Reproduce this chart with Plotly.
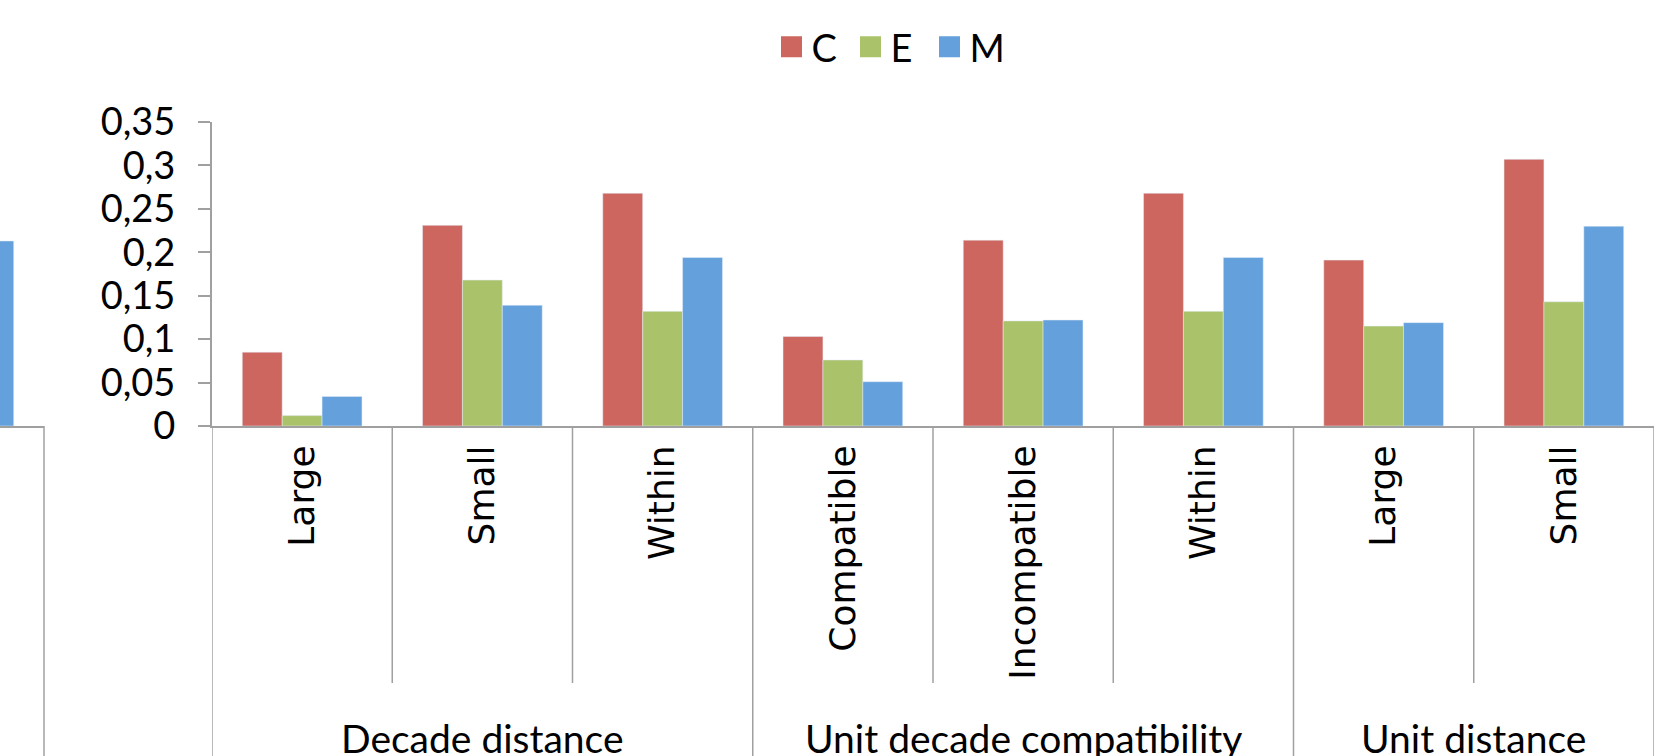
import plotly.graph_objects as go

# ---- data ----
groups = ["Decade distance", "Unit decade compatibility", "Unit distance"]
group_sizes = [3, 3, 2]
categories = ["Large", "Small", "Within", "Compatible", "Incompatible", "Within", "Large", "Small"]
series_names = ["C", "E", "M"]
C_vals = [0.085, 0.231, 0.268, 0.103, 0.214, 0.268, 0.191, 0.307]
E_vals = [0.012, 0.168, 0.132, 0.076, 0.121, 0.132, 0.115, 0.143]
M_vals = [0.034, 0.139, 0.194, 0.051, 0.122, 0.194, 0.119, 0.230]
# partial panel at the far left (only the last M bar of a previous chart is visible)
left_category = ["prev"]
left_C = [None]
left_E = [None]
left_M = [0.213]
y_ticks = [0, 0.05, 0.1, 0.15, 0.2, 0.25, 0.3, 0.35]

colors = {"C": "#CD665F", "E": "#AAC36A", "M": "#64A0DC"}
axis_grey = "#A0A0A0"
FONT = "Lato"

# ---- geometry ----
W, H = 1674, 756
ML, MR, MT, MB = 0, 20, 122, 330
plot_w = W - ML - MR
plot_h = H - MT - MB
main_x0 = 212
left_x1 = 44

group_of = []
for g, n in zip(groups, group_sizes):
    group_of += [g] * n
keys = [f"{g}|{c}" for g, c in zip(group_of, categories)]

fig = go.Figure()
for name, vals in zip(series_names, [C_vals, E_vals, M_vals]):
    fig.add_trace(go.Bar(x=keys, y=vals, name=name, marker_color=colors[name],
                         showlegend=False, xaxis="x", yaxis="y"))
for name, vals in zip(series_names, [left_C, left_E, left_M]):
    fig.add_trace(go.Bar(x=left_category, y=vals, name=name, marker_color=colors[name],
                         showlegend=False, xaxis="x2", yaxis="y"))
# legend entries
for name in series_names:
    fig.add_trace(go.Scatter(x=[None], y=[None], mode="markers", name=name,
                             marker=dict(symbol="square", size=16, color=colors[name],
                                         line=dict(width=5, color=colors[name])),
                             xaxis="x", yaxis="y"))

cat_width_px = (plot_w - main_x0) / len(categories)
left_span = left_x1 / cat_width_px

shapes = []
bottom_paper = -(MB + 10) / plot_h
inner_paper = -(683 - (MT + plot_h)) / plot_h
boundaries = [-0.5]
acc = -0.5
for n in group_sizes:
    acc += n
    boundaries.append(acc)
for i in range(len(categories) + 1):
    xb = i - 0.5
    y1 = bottom_paper if xb in boundaries else inner_paper
    shapes.append(dict(type="line", xref="x", yref="paper", x0=xb, x1=xb, y0=0, y1=y1,
                       line=dict(color=axis_grey, width=1.5)))
shapes.append(dict(type="line", xref="x2 domain", yref="paper", x0=1, x1=1, y0=0, y1=bottom_paper,
                   line=dict(color=axis_grey, width=1.5)))

annotations = []
start = 0
for g, n in zip(groups, group_sizes):
    center = start + (n - 1) / 2
    annotations.append(dict(text=g, x=center, xref="x", y=-(713 - (MT + plot_h)) / plot_h,
                            yref="paper", yanchor="top", xanchor="center", showarrow=False,
                            font=dict(family=FONT, size=39, color="black")))
    start += n

fig.update_layout(
    width=W, height=H,
    margin=dict(l=ML, r=MR, t=MT, b=MB, pad=0),
    paper_bgcolor="white", plot_bgcolor="white",
    barmode="group", bargap=0.336, bargroupgap=0,
    separators=", ",
    font=dict(family=FONT, color="black"),
    xaxis=dict(domain=[main_x0 / plot_w, 1], type="category", categoryorder="array",
               categoryarray=keys, tickvals=keys, ticktext=categories, tickangle=-90,
               tickfont=dict(family="DejaVu Sans", size=36, color="black"),
               ticks="", showline=True, linecolor=axis_grey, linewidth=2,
               ticklabelstandoff=3, showgrid=False, zeroline=False,
               range=[-0.5, len(categories) - 0.5], anchor="y"),
    xaxis2=dict(domain=[0, left_x1 / plot_w], type="category", range=[0.5 - left_span, 0.5],
                showticklabels=False, ticks="", showline=True, linecolor=axis_grey, linewidth=2,
                showgrid=False, zeroline=False, anchor="y"),
    yaxis=dict(range=[0, 0.35], tickvals=y_ticks, showline=True, linecolor=axis_grey, linewidth=2,
               ticks="outside", ticklen=12, tickwidth=2, tickcolor=axis_grey,
               tickfont=dict(family=FONT, size=38, color="black"), ticklabelstandoff=15,
               showgrid=False, zeroline=False, anchor="x"),
    legend=dict(orientation="h", x=890 / plot_w, xanchor="center", y=(MT + plot_h - 47) / plot_h,
                yanchor="middle", font=dict(family=FONT, size=38, color="black"),
                entrywidth=34, entrywidthmode="pixels", bgcolor="rgba(0,0,0,0)"),
    shapes=shapes, annotations=annotations,
)

fig.write_html("out.html", config={"displayModeBar": False},
               post_script="document.body.style.margin='0';")
